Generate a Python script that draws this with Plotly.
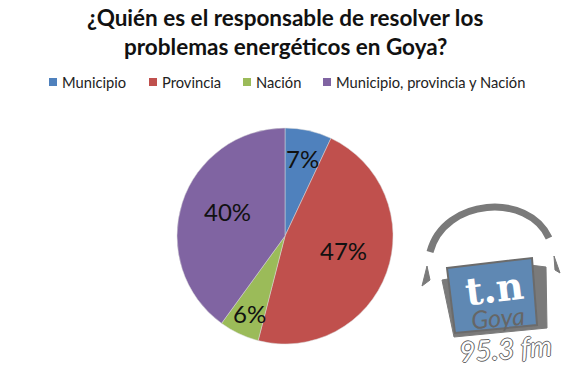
import plotly.graph_objects as go

categories = ["Municipio", "Provincia", "Nación", "Municipio, provincia y Nación"]
values = [7, 47, 6, 40]
colors = ["#4f81bd", "#c0504d", "#9bbb59", "#8064a2"]
title_lines = ["¿Quién es el responsable de resolver los", "problemas energéticos en Goya?"]

W, H = 561, 368
cx, cy, r = 285, 236, 108

# layout guides, in page pixels (annotations and legend entries)
legend_swatch_x = [49, 149, 243, 323]
legend_y = 82
label_pos = [(302, 158), (343, 250), (249, 313), (227, 211)]

fig = go.Figure(go.Pie(
    labels=categories, values=values, sort=False, direction="clockwise", rotation=0,
    marker=dict(colors=colors, line=dict(color="#d9d9d9", width=0.5)),
    textinfo="none",
    domain=dict(x=[(cx - r) / W, (cx + r) / W], y=[1 - (cy + r) / H, 1 - (cy - r) / H]),
    showlegend=False, hoverinfo="label+percent",
))

grey = "#7a7a7a"
shapes = [
    dict(type="path", path="M 430 252 C 444 198, 528 192, 549 238", line=dict(color=grey, width=7)),
    dict(type="path", path="M 427 266 L 422 286 L 430 280 Z", fillcolor=grey, line=dict(color=grey, width=1)),
    dict(type="path", path="M 554 256 L 560 273 L 555 270 Z", fillcolor=grey, line=dict(color=grey, width=1)),
    dict(type="path", path="M 442 280 L 454 337 L 547 328 L 546 267 L 530 265 Z", fillcolor=grey, line=dict(color=grey, width=1)),
    dict(type="path", path="M 447 268 L 532 258 L 537 325 L 455 333 Z", fillcolor="#5f88b3", line=dict(color="#6b6b6b", width=2)),
]
for sx, col in zip(legend_swatch_x, colors):
    shapes.append(dict(type="rect", x0=sx, x1=sx + 8, y0=legend_y - 4, y1=legend_y + 4,
                       fillcolor=col, line=dict(width=0)))

annotations = [
    dict(x=sx + 10.5, y=legend_y, text=c, showarrow=False, xanchor="left", yanchor="middle",
         font=dict(family="Lato", size=14.7, color="#222222"))
    for sx, c in zip(legend_swatch_x, categories)
]
annotations += [
    dict(x=p[0], y=p[1], text=f"{v}%", showarrow=False,
         font=dict(family="Lato", size=24, color="#111111"))
    for p, v in zip(label_pos, values)
]
annotations += [
    dict(x=494, y=288, text="<b>t.n</b>", showarrow=False, textangle=-7,
         font=dict(family="DejaVu Serif", size=38, color="white")),
    dict(x=498, y=317, text="<i>Goya</i>", showarrow=False, textangle=-5,
         font=dict(family="Lato", size=25, color="#666666")),
    dict(x=505, y=348, text="<i>95.3 fm</i>", showarrow=False, textangle=-4,
         font=dict(family="Lato", size=28, color="white",
                   shadow="-1px 0 #666, 1px 0 #666, 0 -1px #666, 0 1px #666")),
]
for i, line in enumerate(title_lines):
    annotations.append(dict(x=285, y=17 + 29 * i, text=f"<b>{line}</b>", showarrow=False,
                            font=dict(family="Lato", size=22.5, color="#111111")))

fig.update_layout(
    width=W, height=H, autosize=False, margin=dict(l=0, r=0, t=0, b=0),
    paper_bgcolor="white", plot_bgcolor="white",
    font=dict(family="Lato", color="#222222"),
    xaxis=dict(range=[0, W], visible=False, domain=[0, 1], fixedrange=True),
    yaxis=dict(range=[H, 0], visible=False, domain=[0, 1], fixedrange=True),
    shapes=shapes, annotations=annotations,
)
fig.add_trace(go.Scatter(x=[None], y=[None], showlegend=False, hoverinfo="skip"))
fig.write_html("out.html", config=dict(displayModeBar=False),
               post_script="document.body.style.margin='0';document.body.style.overflow='hidden';")
